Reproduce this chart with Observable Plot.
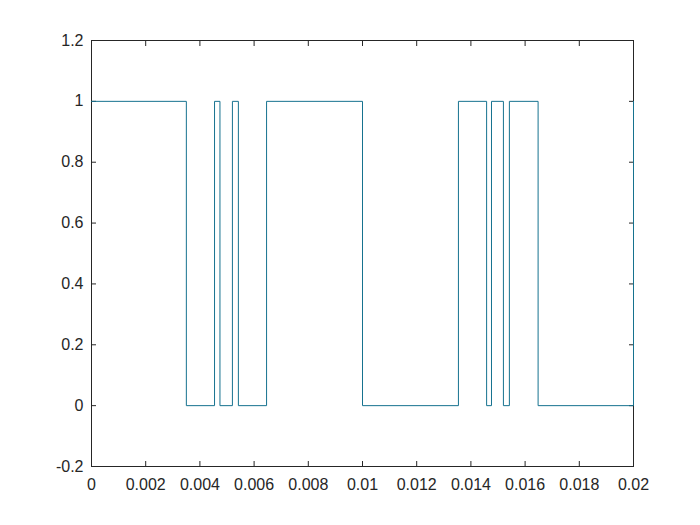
<!DOCTYPE html>
<html>
<head>
<meta charset="utf-8">
<script src="https://cdn.jsdelivr.net/npm/d3@7"></script>
<script src="https://cdn.jsdelivr.net/npm/@observablehq/plot@0.6"></script>
<style>
  html, body { margin: 0; padding: 0; background: #fff; }
  #chart { width: 700px; height: 525px; }
</style>
</head>
<body>
<div id="chart"></div>
<script>
// Switching instants (seconds) and the level held from each instant on
const times  = [0, 0.0035, 0.00454, 0.00474, 0.0052, 0.00542, 0.00646, 0.01, 0.01354, 0.01458, 0.01476, 0.0152, 0.01542, 0.01648, 0.02];
const levels = [1, 0,      1,       0,       1,      0,       1,       0,    1,       0,       1,       0,      1,       0,       1];
const xTicks = [0, 0.002, 0.004, 0.006, 0.008, 0.01, 0.012, 0.014, 0.016, 0.018, 0.02];
const yTicks = [-0.2, 0, 0.2, 0.4, 0.6, 0.8, 1, 1.2];

const data = times.map((t, i) => ({t, v: levels[i]}));
const fmt = d => String(+d.toFixed(4));
const axisColor = "#262626";

const chart = Plot.plot({
  width: 700,
  height: 525,
  marginLeft: 91,
  marginRight: 67,
  marginTop: 40,
  marginBottom: 59,
  style: {fontFamily: "Arial, 'Liberation Sans', Helvetica, sans-serif", fontSize: "16px", color: axisColor, background: "#fff"},
  x: {domain: [0, 0.02], label: null},
  y: {domain: [-0.2, 1.2], label: null},
  marks: [
    Plot.frame({stroke: axisColor, strokeWidth: 1}),
    Plot.axisX(xTicks, {anchor: "bottom", tickSize: 0, tickPadding: 12, tickFormat: fmt, fill: axisColor, label: null}),
    Plot.axisX(xTicks, {anchor: "bottom", tickSize: -5, text: null, stroke: axisColor, label: null}),
    Plot.axisX(xTicks, {anchor: "top", tickSize: -5, text: null, stroke: axisColor, label: null}),
    Plot.axisY(yTicks, {anchor: "left", tickSize: 0, tickPadding: 8, tickFormat: fmt, fill: axisColor, label: null}),
    Plot.axisY(yTicks, {anchor: "left", tickSize: -5, text: null, stroke: axisColor, label: null}),
    Plot.axisY(yTicks, {anchor: "right", tickSize: -5, text: null, stroke: axisColor, label: null}),
    Plot.line(data, {x: "t", y: "v", curve: "step-after", stroke: "#16728f", strokeWidth: 1})
  ]
});
document.getElementById("chart").appendChild(chart);
</script>
</body>
</html>
